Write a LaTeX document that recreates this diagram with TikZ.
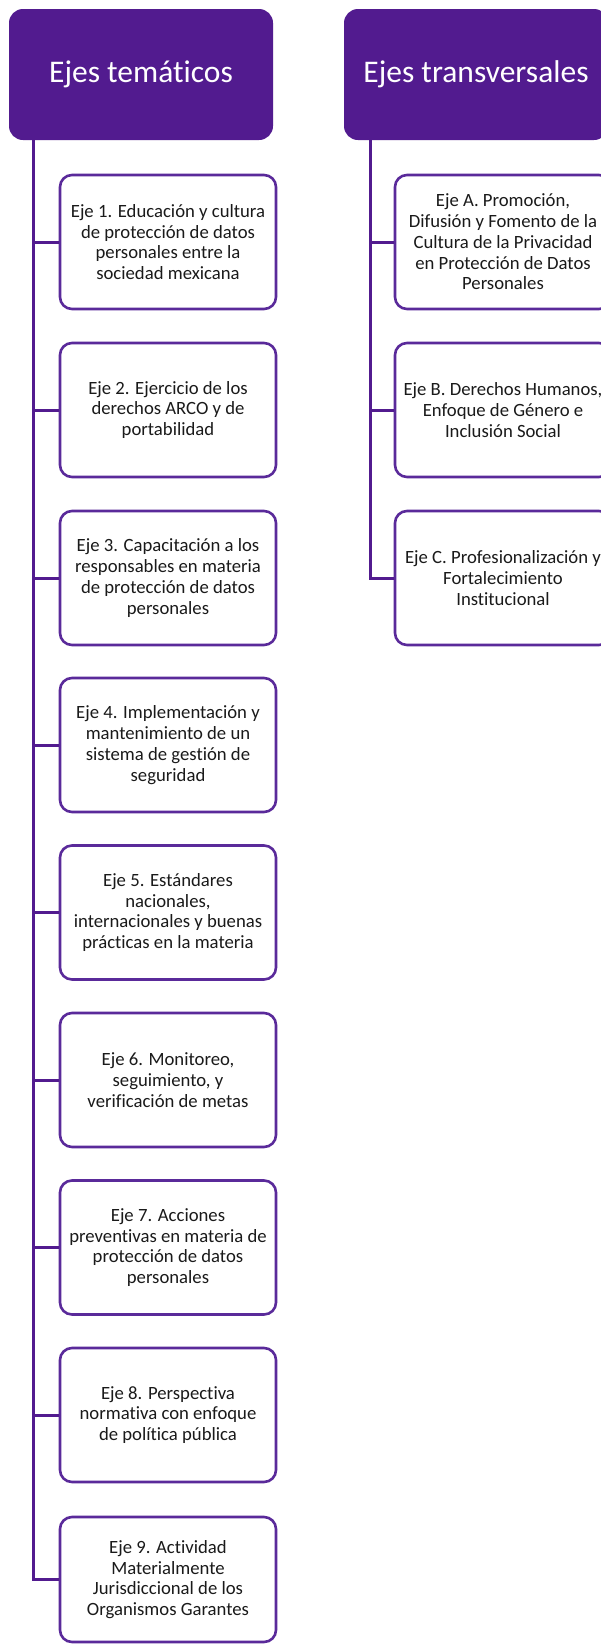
\documentclass[tikz,border=0pt]{standalone}
\usepackage{fontspec}
\setmainfont{Carlito}[Ligatures=NoCommon]
\definecolor{hdrpurple}{HTML}{521B8F}
\definecolor{boxpurple}{HTML}{5A2A9A}
\definecolor{txtdark}{HTML}{1A1A1A}
\tikzset{
  header/.style={fill=hdrpurple, draw=none, rounded corners=14pt, minimum width=264pt, minimum height=131pt, inner sep=0pt, text=white, font=\fontsize{31.5}{36}\selectfont},
  ejebox/.style={draw=boxpurple, line width=2.6pt, fill=white, rounded corners=12pt, minimum width=216pt, minimum height=134pt, inner sep=0pt, align=center, text=txtdark, font=\fontsize{18.7}{20.8}\selectfont},
  conn/.style={draw=hdrpurple, line width=3pt}
}
\begin{document}
\begin{tikzpicture}[x=1pt,y=-1pt]
\useasboundingbox (0,0) rectangle (600,1644);
\fill[white] (0,0) rectangle (600,1644);
% headers
\node[header] (hl) at (141,74.5) {Ejes temáticos};
\node[header] (hr) at (476,74.5) {Ejes transversales};
% spines
\coordinate (ls) at (33,140);
\coordinate (rs) at (370,140);
% left boxes
\node[ejebox] (b1) at (168,242) {Eje 1. Educación y cultura\\de protección de datos\\personales entre la\\sociedad mexicana};
\node[ejebox] (b2) at (168,410) {Eje 2. Ejercicio de los\\derechos ARCO y de\\portabilidad};
\node[ejebox] (b3) at (168,578) {Eje 3. Capacitación a los\\responsables en materia\\de protección de datos\\personales};
\node[ejebox] (b4) at (168,745) {Eje 4. Implementación y\\mantenimiento de un\\sistema de gestión de\\seguridad};
\node[ejebox] (b5) at (168,912.5) {Eje 5. Estándares\\nacionales,\\internacionales y buenas\\prácticas en la materia};
\node[ejebox] (b6) at (168,1080) {Eje 6. Monitoreo,\\seguimiento, y\\verificación de metas};
\node[ejebox] (b7) at (168,1247.5) {Eje 7. Acciones\\preventivas en materia de\\protección de datos\\personales};
\node[ejebox] (b8) at (168,1415) {Eje 8. Perspectiva\\normativa con enfoque\\de política pública};
\node[ejebox, minimum height=125pt] (b9) at (168,1579.5) {Eje 9. Actividad\\Materialmente\\Jurisdiccional de los\\Organismos Garantes};
% right boxes
\node[ejebox] (ba) at (503,242) {Eje A. Promoción,\\Difusión y Fomento de la\\Cultura de la Privacidad\\en Protección de Datos\\Personales};
\node[ejebox] (bb) at (503,410) {Eje B. Derechos Humanos,\\Enfoque de Género e\\Inclusión Social};
\node[ejebox] (bc) at (503,578) {Eje C. Profesionalización y\\Fortalecimiento\\Institucional};
% connectors
\foreach \b in {b1,b2,b3,b4,b5,b6,b7,b8,b9} {\draw[conn] (ls) |- (\b.west);}
\foreach \b in {ba,bb,bc} {\draw[conn] (rs) |- (\b.west);}
\end{tikzpicture}
\end{document}
